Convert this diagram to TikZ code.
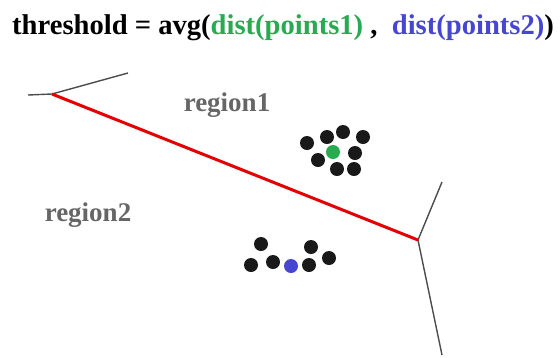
\documentclass[tikz,border=0pt]{standalone}
\usepackage{fontspec}
\setmainfont{Liberation Serif}
\begin{document}
\begin{tikzpicture}[x=1pt,y=-1pt,
  boundary/.style={draw=black!70,line width=1.4pt},
  splitline/.style={draw=red!90!black,line width=3pt},
  dot/.style={circle,fill=black!90,inner sep=0pt,minimum size=14pt},
  label/.style={font=\bfseries\fontsize{27}{30}\selectfont,text=black!60,inner sep=0pt,anchor=base}]
\useasboundingbox (0,0) rectangle (560,357);
\definecolor{ptgreen}{RGB}{40,170,80}
\definecolor{ptblue}{RGB}{70,70,210}
% formula
\node[anchor=base west,inner sep=0pt,font=\bfseries\fontsize{28.6}{32}\selectfont] (title) at (12,34)
  {threshold = avg(\textcolor{ptgreen}{dist(points1)} ,\ \ \textcolor{ptblue}{dist(points2)})};
% boundaries
\coordinate (a) at (52,94);
\coordinate (b) at (418,240);
\coordinate (a1) at (28,95);
\coordinate (a2) at (128,73);
\coordinate (b1) at (442,182);
\coordinate (b2) at (442,355);
\draw[boundary] (a1) -- (a) -- (a2);
\draw[boundary] (b1) -- (b) -- (b2);
\draw[splitline] (a) -- (b);
% labels
\node[label] (r1) at (227,111) {region1};
\node[label] (r2) at (88,221) {region2};
% cluster 1
\foreach \p [count=\i] in {(307,143),(327,137),(343,132),(363,137),(318,160),(355,153),(337,169),(354,169)}
  \node[dot] (g\i) at \p {};
\node[dot,fill=ptgreen] (gc) at (333,152) {};
% cluster 2
\foreach \p [count=\i] in {(261,244),(251,265),(273,262),(309,265),(311,247),(329,258)}
  \node[dot] (k\i) at \p {};
\node[dot,fill=ptblue] (bc) at (291,266) {};
\end{tikzpicture}
\end{document}
